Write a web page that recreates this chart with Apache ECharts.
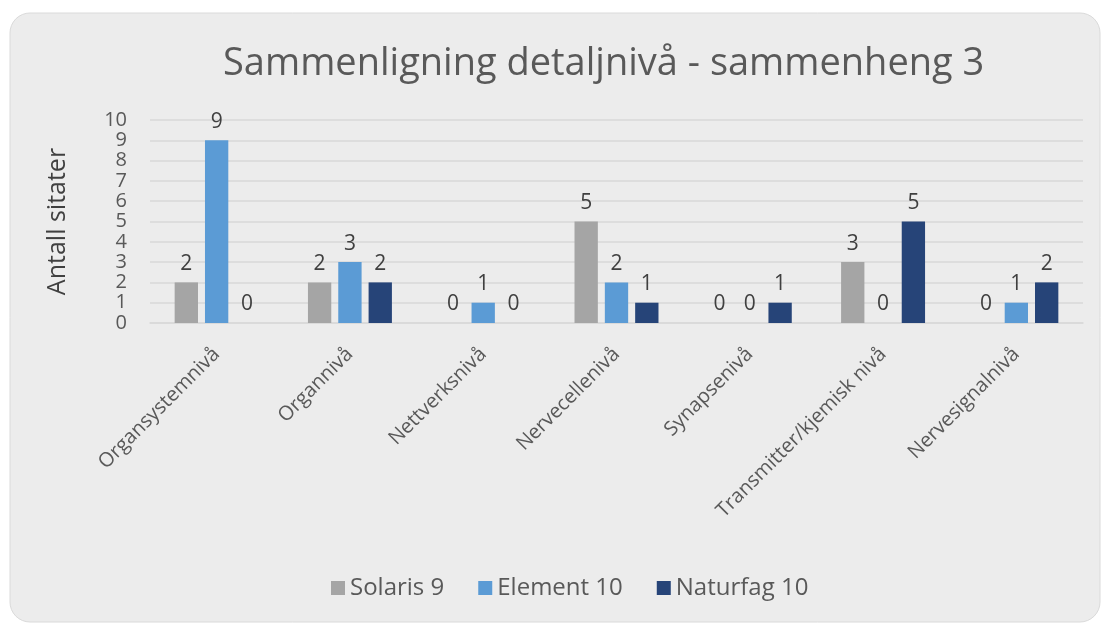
<!DOCTYPE html>
<html>
<head>
<meta charset="utf-8">
<script src="https://cdn.jsdelivr.net/npm/echarts@6/dist/echarts.min.js"></script>
<style>
html,body{margin:0;padding:0;background:#fff;}
#c{width:1104px;height:623px;}
</style>
</head>
<body>
<div id="c"></div>
<script>
const categories = ['Organsystemnivå','Organnivå','Nettverksnivå','Nervecellenivå','Synapsenivå','Transmitter/kjemisk nivå','Nervesignalnivå'];
const solaris9 = [2,2,0,5,0,3,0];
const element10 = [9,3,1,2,0,0,1];
const naturfag10 = [0,2,0,1,1,5,2];
const seriesNames = ['Solaris 9','Element 10','Naturfag 10'];
const colors = ['#a5a5a5','#5b9bd5','#264478'];

const font = '"Open Sans", "Noto Sans", sans-serif';
const chart = echarts.init(document.getElementById('c'));
const mk = (name, data, color) => ({
  name, type:'bar', data, itemStyle:{color},
  barGap:'30%', barCategoryGap:'37%',
  label:{show:true, position:'top', distance:8, color:'#404040', fontSize:21, fontFamily:font}
});
chart.setOption({
  backgroundColor:'#ffffff',
  graphic:[{type:'rect', z:-10, shape:{x:10,y:13,width:1090,height:609,r:20},
    style:{fill:'#ececec', stroke:'#dadada', lineWidth:1}}],
  title:{text:'Sammenligning detaljnivå - sammenheng 3', left:218, top:40,
    textStyle:{fontSize:38, fontWeight:'normal', color:'#595959', fontFamily:font}},
  legend:{bottom:18, left:326, itemWidth:14, itemHeight:14, itemGap:34, icon:'rect',
    textStyle:{fontSize:24, color:'#595959', fontFamily:font}, data:seriesNames},
  grid:{left:150, right:21, top:120, bottom:300},
  xAxis:{type:'category', data:categories,
    axisLine:{lineStyle:{color:'#d9d9d9', width:1.5}}, axisTick:{show:false},
    axisLabel:{interval:0, rotate:45, margin:28, fontSize:20, color:'#595959', fontFamily:font}},
  yAxis:{type:'value', min:0, max:10, interval:1,
    name:'Antall sitater', nameLocation:'middle', nameRotate:90, nameGap:80,
    nameTextStyle:{fontSize:25, color:'#404040', fontFamily:font},
    axisLine:{show:false}, axisTick:{show:false},
    splitLine:{lineStyle:{color:'#d9d9d9', width:1.5}},
    axisLabel:{fontSize:20, color:'#595959', margin:23, fontFamily:font, lineHeight:20,
      hideOverlap:false, showMinLabel:true, showMaxLabel:true}},
  series:[mk(seriesNames[0], solaris9, colors[0]), mk(seriesNames[1], element10, colors[1]), mk(seriesNames[2], naturfag10, colors[2])]
});
</script>
</body>
</html>
